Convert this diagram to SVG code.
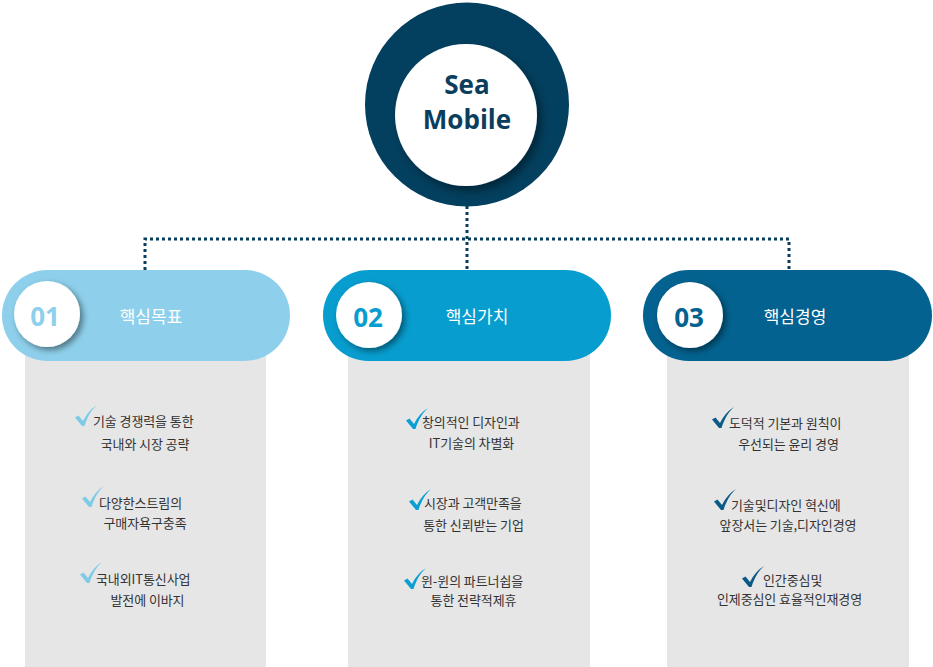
<svg xmlns="http://www.w3.org/2000/svg" width="933" height="667" viewBox="0 0 933 667">
  <defs>
    <filter id="sh" x="-30%" y="-30%" width="160%" height="160%">
      <feDropShadow dx="3" dy="3" stdDeviation="3" flood-color="#000" flood-opacity="0.45"/>
    </filter>
    <filter id="sh2" x="-30%" y="-30%" width="160%" height="160%">
      <feDropShadow dx="4" dy="5" stdDeviation="4" flood-color="#000" flood-opacity="0.4"/>
    </filter>
    <path id="chk" d="M0,12.5 L3.5,10.5 L8,16 C11.5,9 16,3.5 22,0 C16.5,5 12.5,11.5 9.5,21 L7,21 Z"/>
  </defs>
  <style>
    .conn { fill: none; stroke: #0b3d5c; stroke-width: 3; stroke-dasharray: 3 3; }
    .box { fill: #e6e6e6; }
    .num { font-family: "Open Sans", "Noto Sans", sans-serif; font-weight: 700; font-size: 26px; text-anchor: middle; }
    .title { font-family: "Noto Sans CJK KR", sans-serif; font-size: 17px; fill: #ffffff; text-anchor: middle; }
    .body { font-family: "Noto Sans CJK KR", sans-serif; font-size: 13px; fill: #333333; letter-spacing: -0.1px; }
    .mid { text-anchor: middle; }
    .hub { font-family: "Open Sans", "Noto Sans", sans-serif; font-weight: 700; font-size: 26px; fill: #0b3d5c; text-anchor: middle; }
  </style>
  <rect width="933" height="667" fill="#ffffff"/>

  <g id="connectors">
    <path class="conn" d="M467,206 V270"/>
    <path class="conn" d="M145,270 V239 H789 V270"/>
  </g>

  <g id="hub">
    <circle cx="467" cy="104.5" r="102" fill="#033f5e"/>
    <circle cx="466" cy="115" r="71" fill="#ffffff" filter="url(#sh2)"/>
    <text class="hub" x="467" y="94">Sea</text>
    <text class="hub" x="467" y="129">Mobile</text>
  </g>

  <g id="col1">
    <rect class="box" x="25" y="320" width="241" height="347"/>
    <rect x="2" y="270" width="288" height="91" rx="45.5" fill="#8ed0eb"/>
    <circle cx="47" cy="314" r="33" fill="#ffffff" filter="url(#sh)"/>
    <text class="num" x="45" y="326" fill="#8ed0eb">01</text>
    <text class="title" x="151" y="323">핵심목표</text>
    <use href="#chk" x="75" y="405" fill="#7ecbe8"/>
    <text class="body" x="93" y="426">기술 경쟁력을 통한</text>
    <text class="body mid" x="145" y="449">국내와 시장 공략</text>
    <use href="#chk" x="82" y="486" fill="#7ecbe8"/>
    <text class="body" x="99" y="508">다양한스트림의</text>
    <text class="body mid" x="145" y="528">구매자욕구충족</text>
    <use href="#chk" x="80" y="562" fill="#7ecbe8"/>
    <text class="body" x="96" y="584">국내외IT통신사업</text>
    <text class="body mid" x="147.5" y="605">발전에 이바지</text>
  </g>

  <g id="col2">
    <rect class="box" x="348" y="320" width="242" height="347"/>
    <rect x="323" y="270" width="288" height="91" rx="45.5" fill="#079dce"/>
    <circle cx="369" cy="315" r="33" fill="#ffffff" filter="url(#sh)"/>
    <text class="num" x="368" y="327" fill="#079dce">02</text>
    <text class="title" x="477" y="323">핵심가치</text>
    <use href="#chk" x="406" y="408" fill="#0c9fd3"/>
    <text class="body" x="422" y="427">창의적인 디자인과</text>
    <text class="body mid" x="471.5" y="448">IT기술의 차별화</text>
    <use href="#chk" x="409" y="489" fill="#0c9fd3"/>
    <text class="body" x="424" y="508">시장과 고객만족을</text>
    <text class="body mid" x="473.5" y="530">통한 신뢰받는 기업</text>
    <use href="#chk" x="404" y="568" fill="#0c9fd3"/>
    <text class="body" x="421" y="586">윈-윈의 파트너쉽을</text>
    <text class="body mid" x="473.5" y="605">통한 전략적제휴</text>
  </g>

  <g id="col3">
    <rect class="box" x="667" y="320" width="242" height="347"/>
    <rect x="643" y="270" width="289" height="91" rx="45.5" fill="#03628f"/>
    <circle cx="690" cy="315" r="33" fill="#ffffff" filter="url(#sh)"/>
    <text class="num" x="689" y="327" fill="#03628f">03</text>
    <text class="title" x="795" y="323">핵심경영</text>
    <use href="#chk" x="712" y="407" fill="#0b5a85"/>
    <text class="body" x="729" y="428">도덕적 기본과 원칙이</text>
    <text class="body mid" x="788.5" y="449">우선되는 윤리 경영</text>
    <use href="#chk" x="714" y="489" fill="#0b5a85"/>
    <text class="body" x="731" y="510">기술및디자인 혁신에</text>
    <text class="body mid" x="788" y="530">앞장서는 기술,디자인경영</text>
    <use href="#chk" x="742" y="566" fill="#0b5a85"/>
    <text class="body" x="763" y="585">인간중심및</text>
    <text class="body mid" x="789.5" y="604">인제중심인 효율적인재경영</text>
  </g>
</svg>
